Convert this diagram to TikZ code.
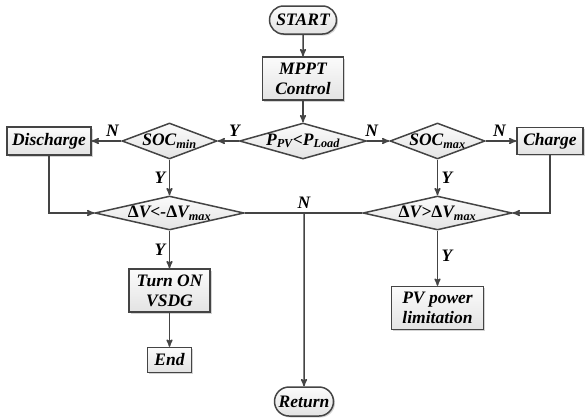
\documentclass[tikz,border=0pt]{standalone}
\usepackage{fontspec}
\setmainfont{Liberation Serif}
\usetikzlibrary{arrows,shapes,shadows}
\definecolor{linegray}{HTML}{444444}
\tikzstyle{block} = [rectangle, draw=linegray, line width=1.5pt,
    top color=gray!3, bottom color=gray!22, text centered, inner sep=0pt,
    drop shadow={shadow xshift=1.5pt, shadow yshift=-1.5pt, opacity=0.35}]
\tikzstyle{decision} = [diamond, draw=linegray, line width=1.5pt,
    top color=gray!3, bottom color=gray!22, inner sep=0pt, minimum height=36pt]
\tikzstyle{terminal} = [rounded rectangle, draw=linegray, line width=1.5pt,
    top color=gray!3, bottom color=gray!22, inner sep=0pt,
    drop shadow={shadow xshift=1.5pt, shadow yshift=-1.5pt, opacity=0.35}]
\newcommand{\dtext}[1]{\makebox[0pt]{#1}}
\newcommand{\dV}{{\upshape\char"0394}V}

\begin{document}
\begin{tikzpicture}[x=1pt,y=-1pt,->,>=stealth',draw=linegray,line width=1.5pt,
                    font=\fontsize{17.5}{20}\selectfont\bfseries\itshape]
  \path[use as bounding box,draw=none] (0,0) rectangle (586,418);

  \node[terminal,minimum width=67pt,minimum height=28pt] (start) at (303,20) {START};
  \node[block,minimum width=81pt,minimum height=43pt,align=center] (mppt) [below of=start,node distance=58.5pt] {MPPT\\Control};
  \node[decision,minimum width=127pt] (ppv) [below of=mppt,node distance=62.5pt]
       {\dtext{P\textsubscript{PV}<P\textsubscript{Load}}};
  \node[decision,minimum width=95pt] (socmin) [left of=ppv,node distance=133.5pt] {\dtext{SOC\textsubscript{min}}};
  \node[block,minimum width=84pt,minimum height=28pt] (discharge) [left of=socmin,node distance=120.5pt] {Discharge};
  \node[decision,minimum width=95pt] (socmax) [right of=ppv,node distance=134.5pt] {\dtext{SOC\textsubscript{max}}};
  \node[block,minimum width=66pt,minimum height=27pt] (charge) [right of=socmax,node distance=112.5pt] {Charge};
  \node[decision,minimum width=149pt,minimum height=34pt] (dvlow) [below of=socmin,node distance=72pt]
       {\dtext{\dV<-\dV\textsubscript{max}}};
  \node[decision,minimum width=149pt,minimum height=34pt] (dvhigh) [below of=socmax,node distance=72pt]
       {\dtext{\dV>\dV\textsubscript{max}}};
  \node[block,minimum width=81pt,minimum height=43pt,align=center] (vsdg) [below of=dvlow,node distance=77.5pt] {Turn ON\\VSDG};
  \node[block,minimum width=44pt,minimum height=25pt] (end) [below of=vsdg,node distance=69.5pt] {End};
  \node[block,minimum width=92pt,minimum height=43pt,align=center] (pvlim) [below of=dvhigh,node distance=95pt] {PV power\\limitation};
  \node[terminal,minimum width=59pt,minimum height=29pt] (return) at (304,401.5) {Return};
  \coordinate (junc) at (304,213);

  \draw (start) -- (mppt);
  \draw (mppt) -- (ppv);
  \draw (ppv) -- node[pos=0.2,above] {Y} (socmin);
  \draw (ppv) -- node[pos=0.2,above] {N} (socmax);
  \draw (socmin) -- node[pos=0.3,above] {N} (discharge);
  \draw (socmax) -- node[pos=0.45,above] {N} (charge);
  \draw (socmin) -- node[left] {Y} (dvlow);
  \draw (socmax) -- node[right] {Y} (dvhigh);
  \draw (discharge.south) |- (dvlow.west);
  \draw (charge.south) |- (dvhigh.east);
  \draw[-] (dvlow.east) -- (junc) node[above] {N} -- (dvhigh.west);
  \draw (junc) -- (return);
  \draw (dvlow) -- node[left] {Y} (vsdg);
  \draw (vsdg) -- (end);
  \draw (dvhigh) -- node[pos=0.45,right] {Y} (pvlim);
\end{tikzpicture}
\end{document}
